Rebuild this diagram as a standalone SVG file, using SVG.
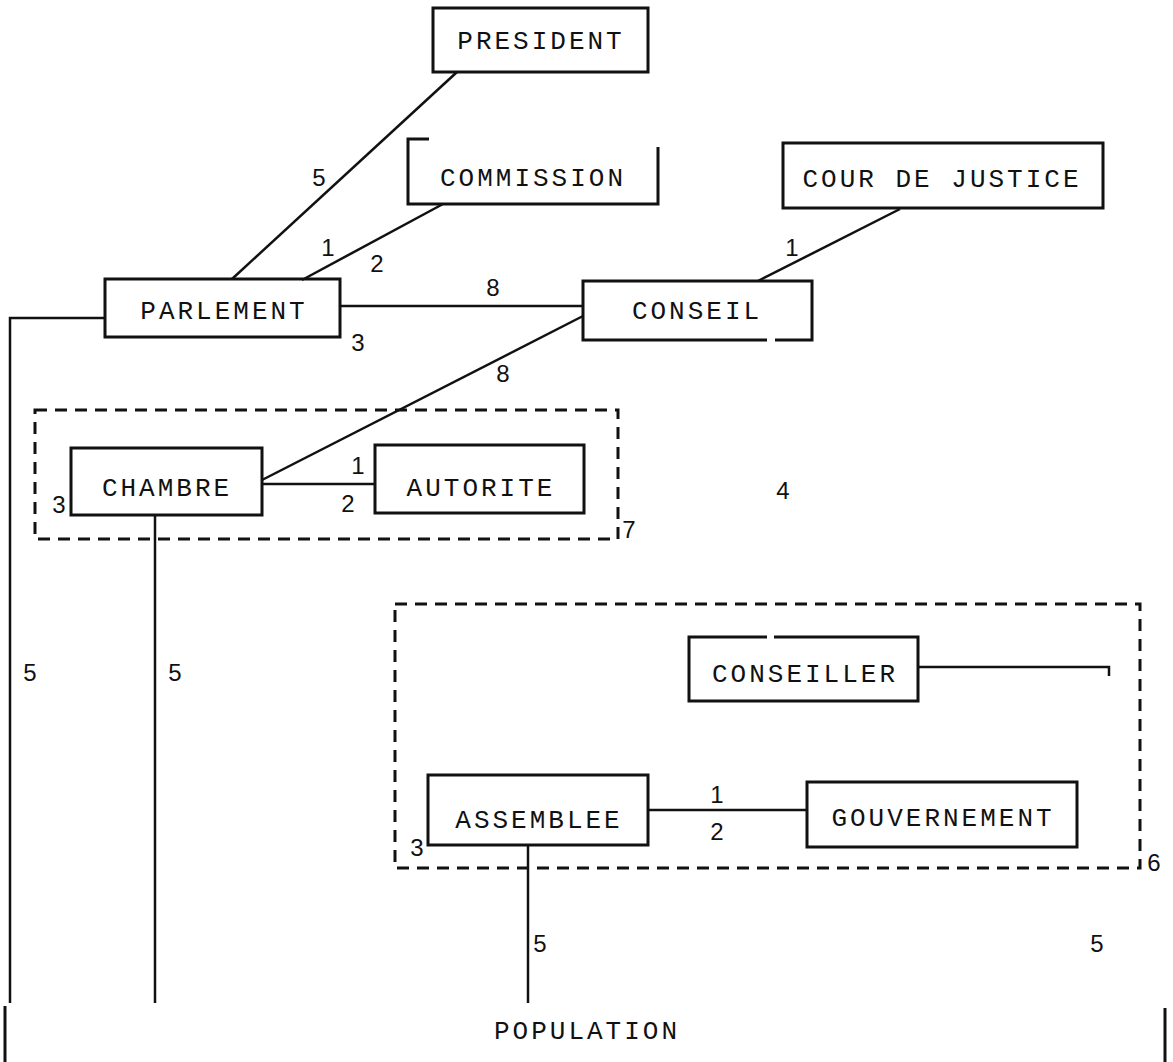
<svg xmlns="http://www.w3.org/2000/svg" width="1173" height="1062" viewBox="0 0 1173 1062">
<style>
.box{fill:none;stroke:#111;stroke-width:3;stroke-linejoin:miter}
.ln{fill:none;stroke:#111;stroke-width:2.5}
.dash{fill:none;stroke:#111;stroke-width:3;stroke-dasharray:12 8}
.t{font-family:"Liberation Mono","DejaVu Sans Mono",monospace;font-size:26px;letter-spacing:3px;fill:#111;text-anchor:middle}
.n{font-family:"Liberation Sans","DejaVu Sans",sans-serif;font-size:24px;fill:#111;text-anchor:middle}
</style>
<rect width="1173" height="1062" fill="#fff"/>
<g id="connectors">
<line class="ln" x1="457" y1="72" x2="232" y2="279"/>
<line class="ln" x1="443" y1="204" x2="302" y2="280"/>
<line class="ln" x1="340" y1="306" x2="583" y2="306"/>
<line class="ln" x1="758" y1="281" x2="900" y2="209"/>
<line class="ln" x1="583" y1="316" x2="262" y2="480"/>
<line class="ln" x1="262" y1="484" x2="375" y2="484"/>
<polyline class="ln" points="105,318 10,318 10,1003"/>
<line class="ln" x1="155" y1="515" x2="155" y2="1003"/>
<polyline class="ln" points="918,667 1109,667 1109,676"/>
<line class="ln" x1="648" y1="810" x2="807" y2="810"/>
<line class="ln" x1="528" y1="845" x2="528" y2="1003"/>
</g>
<g id="group7">
<rect class="dash" x="35" y="410" width="583" height="129"/>
</g>
<g id="group6">
<rect class="dash" x="395" y="604" width="745" height="264"/>
</g>
<g id="president">
<rect class="box" x="433" y="8" width="215" height="64"/>
<text class="t" x="541" y="49">PRESIDENT</text>
</g>
<g id="commission">
<path class="box" d="M429 139 H408 V204 H658 V147"/>
<text class="t" x="533" y="186">COMMISSION</text>
</g>
<g id="cour">
<rect class="box" x="783" y="143" width="320" height="65"/>
<text class="t" x="942" y="187">COUR DE JUSTICE</text>
</g>
<g id="parlement">
<rect class="box" x="105" y="279" width="235" height="58"/>
<text class="t" x="224" y="319">PARLEMENT</text>
</g>
<g id="conseil">
<path class="box" d="M767 340 H583 V281 H812 V340 H775"/>
<text class="t" x="697" y="319">CONSEIL</text>
</g>
<g id="chambre">
<rect class="box" x="71" y="448" width="191" height="67"/>
<text class="t" x="167" y="496">CHAMBRE</text>
</g>
<g id="autorite">
<rect class="box" x="375" y="445" width="209" height="68"/>
<text class="t" x="481" y="496">AUTORITE</text>
</g>
<g id="conseiller">
<path class="box" d="M767 637 H689 V701 H918 V637 H774"/>
<text class="t" x="805" y="682">CONSEILLER</text>
</g>
<g id="assemblee">
<rect class="box" x="428" y="775" width="220" height="70"/>
<text class="t" x="539" y="828">ASSEMBLEE</text>
</g>
<g id="gouvernement">
<rect class="box" x="807" y="782" width="270" height="65"/>
<text class="t" x="943" y="826">GOUVERNEMENT</text>
</g>
<g id="population">
<line class="box" x1="5" y1="1006" x2="5" y2="1062"/>
<line class="box" x1="1165" y1="1008" x2="1165" y2="1062"/>
<text class="t" x="587" y="1039">POPULATION</text>
</g>
<g id="labels">
<text class="n" x="319" y="186">5</text>
<text class="n" x="328" y="256">1</text>
<text class="n" x="377" y="272">2</text>
<text class="n" x="358" y="351">3</text>
<text class="n" x="493" y="296">8</text>
<text class="n" x="503" y="382">8</text>
<text class="n" x="792" y="256">1</text>
<text class="n" x="59" y="513">3</text>
<text class="n" x="358" y="474">1</text>
<text class="n" x="348" y="512">2</text>
<text class="n" x="629" y="538">7</text>
<text class="n" x="783" y="499">4</text>
<text class="n" x="30" y="681">5</text>
<text class="n" x="175" y="681">5</text>
<text class="n" x="417" y="856">3</text>
<text class="n" x="717" y="803">1</text>
<text class="n" x="717" y="840">2</text>
<text class="n" x="1154" y="871">6</text>
<text class="n" x="540" y="952">5</text>
<text class="n" x="1097" y="952">5</text>
</g>
</svg>
